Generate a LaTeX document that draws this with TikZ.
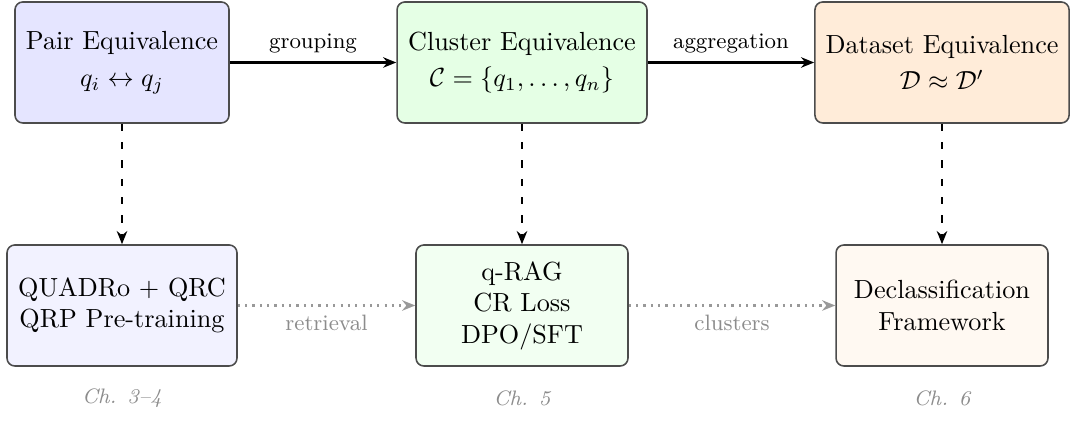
\documentclass[tikz,border=0pt]{standalone}
\usetikzlibrary{arrows.meta}
\begin{document}
\begin{tikzpicture}[x=0.3817pt,y=-0.3817pt,
  box/.style={draw=black!70, line width=0.6pt, rounded corners=3pt, align=center,
    inner xsep=2pt, inner ysep=2pt, minimum height=46.2pt},
  lab/.style={font=\fontsize{8.5}{10}\selectfont},
  chlab/.style={font=\fontsize{8}{10}\selectfont\itshape, text=black!45},
  solidarrow/.style={thick, -{Stealth[length=5pt,width=4pt]}},
  dasharrow/.style={thick, dash pattern=on 2.8pt off 4.2pt, -{Stealth[length=5pt,width=4pt]}},
  dotarrow/.style={thick, black!40, dotted, -{Stealth[length=5pt,width=4pt]}}]
\useasboundingbox (0,0) rectangle (1070,421);
\node[box, fill=blue!10, minimum width=81.7pt] (pair) at (122,62.5)
  {Pair Equivalence\\[2pt] $q_i \leftrightarrow q_j$};
\node[box, fill=green!10, minimum width=95.4pt] (clus) at (522,62.5)
  {Cluster Equivalence\\[2pt] $\mathcal{C} = \{q_1, \ldots, q_n\}$};
\node[box, fill=orange!15, minimum width=97pt] (data) at (942,62.5)
  {Dataset Equivalence\\[2pt] $\mathcal{D} \approx \mathcal{D}'$};
\node[box, fill=blue!5, minimum width=87.8pt] (quadro) at (122,305.5)
  {QUADRo + QRC\\QRP Pre-training};
\node[box, fill=green!5, minimum width=80.9pt] (qrag) at (522,305.5)
  {q-RAG\\CR Loss\\DPO/SFT};
\node[box, fill=orange!5, minimum width=80.9pt] (decl) at (942,305.5)
  {Declassification\\Framework};
\draw[solidarrow] (pair) -- node[above, lab] (lg) {grouping} (clus);
\draw[solidarrow] (clus) -- node[above, lab] (la) {aggregation} (data);
\draw[dasharrow] (pair) -- (quadro);
\draw[dasharrow] (clus) -- (qrag);
\draw[dasharrow] (data) -- (decl);
\draw[dotarrow] (quadro) -- node[below, lab, text=black!45] (lr) {retrieval} (qrag);
\draw[dotarrow] (qrag) -- node[below, lab, text=black!45] (lc) {clusters} (decl);
\node[chlab] (ch1) at (122,398) {Ch. 3--4};
\node[chlab] (ch2) at (522,398) {Ch. 5};
\node[chlab] (ch3) at (942,398) {Ch. 6};
\end{tikzpicture}
\end{document}
